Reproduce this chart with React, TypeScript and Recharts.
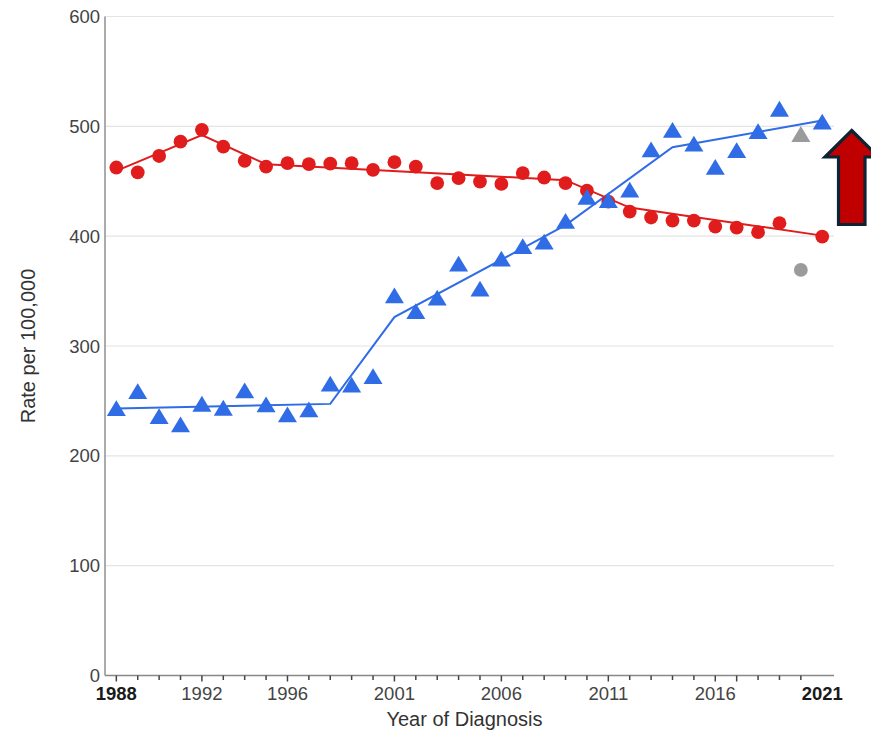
import React from 'react';
import { ComposedChart, Line, XAxis, YAxis, CartesianGrid, Label } from 'recharts';

// Year of diagnosis
const years = [
  1988, 1989, 1990, 1991, 1992, 1993, 1994, 1995, 1996, 1997, 1998,
  1999, 2000, 2001, 2002, 2003, 2004, 2005, 2006, 2007, 2008, 2009,
  2010, 2011, 2012, 2013, 2014, 2015, 2016, 2017, 2018, 2019, 2020, 2021,
];

// Observed rates per 100,000 (2020 shown separately in gray)
const redRates = [
  462.5, 458, 473, 486, 496.8, 481.6, 468.6, 463.4, 466.5, 465.6, 466.1,
  466.5, 460.4, 467.4, 463.4, 448.3, 452.8, 449.7, 447.6, 457.4, 453.4, 448.3,
  441.4, 431.5, 422.4, 417, 414.2, 414.2, 408.7, 407.8, 403.6, 411.8, null, 399.6,
];
const blueRates = [
  243.4, 259, 236.2, 228.6, 247.4, 243.8, 259.6, 246.8, 237.7, 242.3, 265.8,
  264.8, 272.6, 346.1, 331.8, 344, 375, 352.2, 379.5, 391, 395.1, 414,
  435.8, 432.8, 442.3, 479, 496.8, 484.3, 463, 478.4, 495.7, 516, null, 504.3,
];

// 2020 values, excluded from the fit
const excludedYear = 2020;
const redExcluded = 369.3;
const blueExcluded = 493;

// Joinpoint fitted trends
const redTrendYears = [1988, 1992, 1995, 2009, 2012, 2021];
const redTrendValues = [459.5, 492, 465.5, 451, 426, 400.5];
const blueTrendYears = [1988, 1998, 2001, 2009, 2014, 2021];
const blueTrendValues = [243, 247.3, 326.3, 410, 481, 505.3];

// Axis ticks
const yTicks = [0, 100, 200, 300, 400, 500, 600];
const labeledYears = [1988, 1992, 1996, 2001, 2006, 2011, 2016, 2021];
const boldYears = [1988, 2021];

const RED = '#e01c1c';
const BLUE = '#2f6ce6';
const GRAY = '#9b9b9b';
const FONT = '"Liberation Sans", Arial, sans-serif';

const rows = years.map((year, i) => {
  const ri = redTrendYears.indexOf(year);
  const bi = blueTrendYears.indexOf(year);
  return {
    year,
    red: redRates[i],
    blue: blueRates[i],
    redGray: year === excludedYear ? redExcluded : null,
    blueGray: year === excludedYear ? blueExcluded : null,
    redTrend: ri >= 0 ? redTrendValues[ri] : null,
    blueTrend: bi >= 0 ? blueTrendValues[bi] : null,
  };
});

const circleDot = (fill: string) => (props: any) => {
  const { cx, cy, value, index } = props;
  if (value == null || cx == null || cy == null) return <g key={`c-${fill}-${index}`} />;
  return <circle key={`c-${fill}-${index}`} cx={cx} cy={cy} r={6.9} fill={fill} />;
};

const triangleDot = (fill: string) => (props: any) => {
  const { cx, cy, value, index } = props;
  if (value == null || cx == null || cy == null) return <g key={`t-${fill}-${index}`} />;
  const hw = 9.5;
  const hh = 7.9;
  const pts = `${cx},${cy - hh} ${cx + hw},${cy + hh} ${cx - hw},${cy + hh}`;
  return <polygon key={`t-${fill}-${index}`} points={pts} fill={fill} />;
};

const XTick = (props: any) => {
  const { x, y, payload } = props;
  const year = payload.value as number;
  const labeled = labeledYears.includes(year);
  const bold = boldYears.includes(year);
  const long = labeled || year === 2017;
  return (
    <g>
      {year !== 2021 && (
        <line x1={x} x2={x} y1={y} y2={y + (long ? 6 : 4.5)} stroke="#444" strokeWidth={1.5} />
      )}
      {labeled && (
        <text
          x={x}
          y={y + 24.5}
          textAnchor="middle"
          fontSize={18.5}
          fontFamily={FONT}
          fontWeight={bold ? 700 : 400}
          fill={bold ? '#1a1a1a' : '#444'}
        >
          {year}
        </text>
      )}
    </g>
  );
};

const YTitle = (props: any) => {
  const { viewBox } = props;
  const cx = viewBox.x + 28;
  const cy = viewBox.y + viewBox.height / 2;
  return (
    <text
      x={cx}
      y={cy}
      transform={`rotate(-90 ${cx} ${cy})`}
      textAnchor="middle"
      dominantBaseline="central"
      fontSize={20}
      fontFamily={FONT}
      fill="#333"
    >
      Rate per 100,000
    </text>
  );
};

const XTitle = (props: any) => {
  const { viewBox } = props;
  const cx = viewBox.x + viewBox.width / 2 - 5;
  return (
    <text x={cx} y={viewBox.y + 50.5} textAnchor="middle" fontSize={20} fontFamily={FONT} fill="#333">
      Year of Diagnosis
    </text>
  );
};

export default function App() {
  return (
    <div style={{ position: 'absolute', left: 0, top: 0, width: 871, height: 730, background: '#fff' }}>
      <ComposedChart
        width={871}
        height={730}
        data={rows}
        margin={{ top: 16.5, right: 37, bottom: 0, left: 0 }}
      >
        <CartesianGrid vertical={false} stroke="#e4e4e4" strokeWidth={1.2} />
        <XAxis
          dataKey="year"
          type="number"
          domain={[1987.47, 2021.55]}
          ticks={years}
          interval={0}
          height={54.5}
          tickSize={0}
          tickMargin={0}
          tick={<XTick />}
          axisLine={{ stroke: '#888', strokeWidth: 1.4 }}
          tickLine={false}
        >
          <Label content={<XTitle />} />
        </XAxis>
        <YAxis
          type="number"
          domain={[0, 600]}
          ticks={yTicks}
          width={105}
          tickSize={0}
          tickMargin={5}
          tickLine={false}
          axisLine={{ stroke: '#888', strokeWidth: 1.4 }}
          tick={{ fontSize: 18.5, fontFamily: FONT, fill: '#444' }}
        >
          <Label content={<YTitle />} />
        </YAxis>

        <Line dataKey="redTrend" type="linear" stroke={RED} strokeWidth={2} dot={false} activeDot={false} connectNulls isAnimationActive={false} />
        <Line dataKey="red" stroke="none" dot={circleDot(RED)} activeDot={false} isAnimationActive={false} />
        <Line dataKey="blueTrend" type="linear" stroke={BLUE} strokeWidth={2} dot={false} activeDot={false} connectNulls isAnimationActive={false} />
        <Line dataKey="blue" stroke="none" dot={triangleDot(BLUE)} activeDot={false} isAnimationActive={false} />
        <Line dataKey="redGray" stroke="none" dot={circleDot(GRAY)} activeDot={false} isAnimationActive={false} />
        <Line dataKey="blueGray" stroke="none" dot={triangleDot(GRAY)} activeDot={false} isAnimationActive={false} />
      </ComposedChart>
      <svg
        width={871}
        height={730}
        style={{ position: 'absolute', left: 0, top: 0, pointerEvents: 'none' }}
      >
        <polygon
          points="851.7,130.5 878.5,157 865,157 865,224.5 838.5,224.5 838.5,157 825,157"
          fill="#c00000"
          stroke="#0e2333"
          strokeWidth={3.2}
          strokeLinejoin="miter"
        />
      </svg>
    </div>
  );
}
